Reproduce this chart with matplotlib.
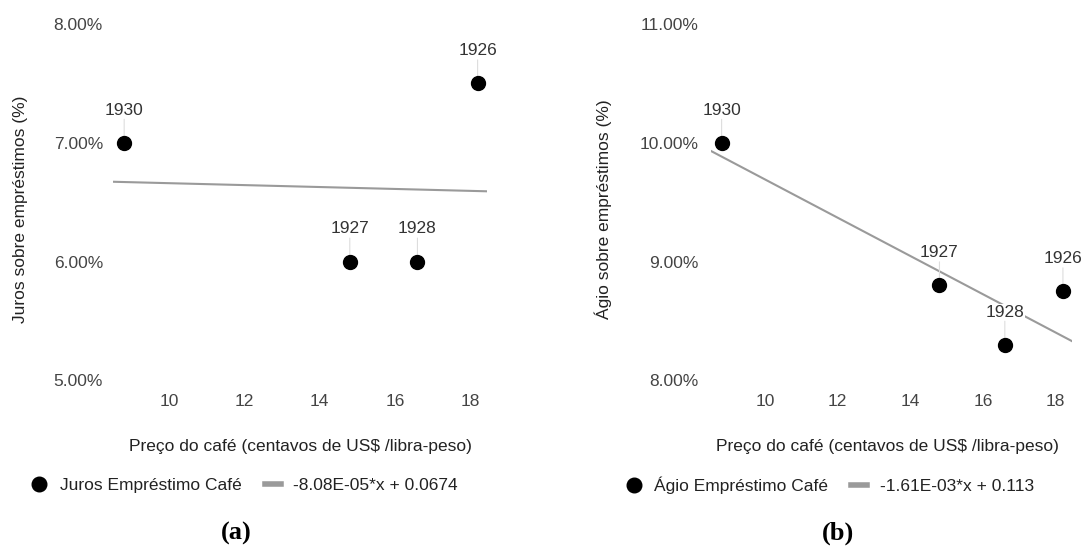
import numpy as np
import matplotlib
matplotlib.use('Agg')
import matplotlib.pyplot as plt
from matplotlib.lines import Line2D
from matplotlib.ticker import FuncFormatter

# dados
anos = ['1926', '1927', '1928', '1930']
preco_cafe = [18.2, 14.8, 16.6, 8.8]
juros = [0.075, 0.060, 0.060, 0.070]
agio = [0.0875, 0.088, 0.083, 0.100]

# tendencias (coeficientes da legenda)
juros_coef = [-8.08e-05, 0.0674]
agio_coef = [-1.61e-03, 0.113]
juros_eq = '-8.08E-05*x + 0.0674'
agio_eq = '-1.61E-03*x + 0.113'

juros_yticks = [0.05, 0.06, 0.07, 0.08]
agio_yticks = [0.08, 0.09, 0.10, 0.11]
x_ticks = [10, 12, 14, 16, 18]
x_lim = [8.5, 18.45]

plt.rcParams['font.family'] = ['Liberation Sans', 'DejaVu Sans']
FS = 12.5
W, H = 1084, 548

fig = plt.figure(figsize=(W / 100, H / 100), dpi=100)


def painel(rect, y, coef, yticks, ylabel, serie, eq, ypad, ylab_x, xlab_x, leg_x, letra, letra_x):
    ax = fig.add_axes(rect)
    xs = np.array(x_lim)
    ax.plot(xs, coef[0] * xs + coef[1], color='#9a9a9a', lw=1.5, zorder=1)
    ax.plot(preco_cafe, y, 'o', color='black', ms=10, zorder=3)
    for a, px, py in zip(anos, preco_cafe, y):
        ax.annotate(a, xy=(px, py), xytext=(0, 23.5), textcoords='offset points',
                    ha='center', va='center', fontsize=FS, color='#333333', zorder=2,
                    bbox=dict(facecolor='white', edgecolor='none', pad=0.3),
                    arrowprops=dict(arrowstyle='-', color='#dddddd', lw=0.8,
                                    shrinkA=1, shrinkB=5))
    ax.set_xlim(x_lim)
    ax.set_ylim(yticks[0], yticks[-1])
    ax.set_xticks(x_ticks)
    ax.set_yticks(yticks)
    ax.yaxis.set_major_formatter(FuncFormatter(lambda v, p: '{:.2f}%'.format(v * 100)))
    ax.tick_params(axis='both', length=0, labelsize=FS, labelcolor='#444444')
    ax.tick_params(axis='y', pad=ypad)
    ax.tick_params(axis='x', pad=10)
    for s in ax.spines.values():
        s.set_visible(False)
    ax.set_ylabel(ylabel, fontsize=FS, color='#222222')
    ax.yaxis.set_label_coords(ylab_x, 0.48)
    ax.set_xlabel('Preço do café (centavos de US$ /libra-peso)', fontsize=FS, color='#222222')
    ax.xaxis.set_label_coords(xlab_x, -0.165)

    handles = [Line2D([], [], ls='none', marker='o', color='black', ms=10.5),
               Line2D([], [], color='#9a9a9a', lw=4)]
    fig.legend(handles, [serie, eq], loc='center left',
               bbox_to_anchor=(leg_x, 1 - 485 / H), ncol=2, frameon=False,
               fontsize=FS, labelcolor='#222222', handlelength=0.92,
               handletextpad=0.72, columnspacing=1.34, borderpad=0, borderaxespad=0)
    fig.text(letra_x, 0.016, letra, ha='center', va='baseline', fontsize=19,
             fontweight='bold', family='Liberation Serif')
    return ax


bottom = 1 - 380.3 / H
height = (380.3 - 23.9) / H

painel([112.9 / W, bottom, (487 - 112.9) / W, height], juros, juros_coef, juros_yticks,
       'Juros sobre empréstimos (%)', 'Juros Empréstimo Café', juros_eq,
       7.2, -0.228, 0.502, 31.3 / W, '(a)', 236 / W)
painel([710.7 / W, bottom, (1072 - 710.7) / W, height], agio, agio_coef, agio_yticks,
       'Ágio sobre empréstimos (%)', 'Ágio Empréstimo Café', agio_eq,
       9, -0.273, 0.49, 625.7 / W, '(b)', 838 / W)

fig.savefig('out.png', dpi=100)
